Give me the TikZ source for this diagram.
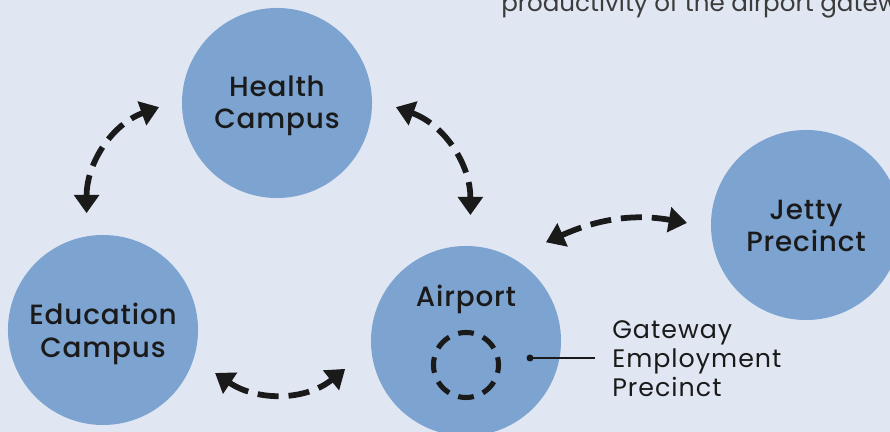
\documentclass[tikz,border=0pt]{standalone}
\usepackage{fontspec}
\setmainfont{Poppins}[LetterSpace=4]
\newfontfamily\labelfont{Poppins Medium}[LetterSpace=3]
\newfontfamily\introfont{Poppins}
\usetikzlibrary{arrows.meta,calc,positioning}
\definecolor{bgcolor}{RGB}{224,231,243}
\definecolor{campuscolor}{RGB}{125,163,208}
\definecolor{inkcolor}{RGB}{26,26,26}

\begin{document}
\begin{tikzpicture}[x=0.025cm, y=0.025cm,
    campus/.style={circle, fill=campuscolor, minimum size=4.75cm, inner sep=0pt},
    tag/.style={align=center, inner sep=0pt, text=inkcolor,
      font=\labelfont\fontsize{19.8}{23}\selectfont},
    link/.style={line width=4.1pt, draw=inkcolor, dash pattern=on 15pt off 7pt,
      {Triangle[length=13pt,width=17.5pt]}-{Triangle[length=13pt,width=17.5pt]}},
    note/.style={text=inkcolor, align=left, inner sep=0pt,
      font=\fontsize{18}{20.6}\selectfont}]
  \fill[bgcolor] (0,0) rectangle (890,432);
  \useasboundingbox (0,0) rectangle (890,432);
  \clip (0,0) rectangle (890,432);

  % running text from the page above
  \node[anchor=base west, inner sep=0pt, text=inkcolor!85,
        font=\introfont\fontsize{17.5}{20}\selectfont] (intro) at (501,420)
       {productivity of the airport gateway};

  % the four precincts
  \node[campus] (health) at (277,329) {};
  \node[campus] (education) at (103,102) {};
  \node[campus] (airport) at (466,91) {};
  \node[campus] (jetty) at (806,207) {};
  \node[tag] (healthlabel) at ($(health)+(0,-3)$) {Health\\Campus};
  \node[tag] (educationlabel) at ($(education)+(0,-4)$) {Education\\Campus};
  \node[tag] (airportlabel) at ($(airport)+(0,42)$) {Airport};
  \node[tag] (jettylabel) at ($(jetty)+(0,-1)$) {Jetty\\Precinct};

  % gateway employment precinct inside the airport
  \node[circle, draw=inkcolor, line width=3.6pt, minimum size=1.625cm, inner sep=0pt,
        dash pattern=on 11.2pt off 6.95pt, dash phase=5.6pt] (gep) at ($(airport)+(0,-24)$) {};
  \coordinate (gepdot) at ($(airport)+(64,-17)$);
  \node[note, anchor=west] (geplabel) at (612,73) {Gateway\\Employment\\Precinct};
  \fill[inkcolor] (gepdot) circle (3.5);
  \draw[inkcolor, line width=2pt, shorten >=12pt] (gepdot) -- (gepdot -| geplabel.west);

  % two-way links
  \draw[link] ($(education)+(98:118)$) to[out=90, in=200] ($(health)+(182:118)$);
  \draw[link] ($(health)+(-2:119)$) to[out=-20, in=90] ($(airport)+(88:126)$);
  \draw[link] ($(education)+(-21:120)$) to[out=-34, in=219] ($(airport)+(193:124)$);
  \draw[link] ($(airport)+(51:127)$) to[out=24, in=170] ($(jetty)+(179:119)$);
\end{tikzpicture}
\end{document}
